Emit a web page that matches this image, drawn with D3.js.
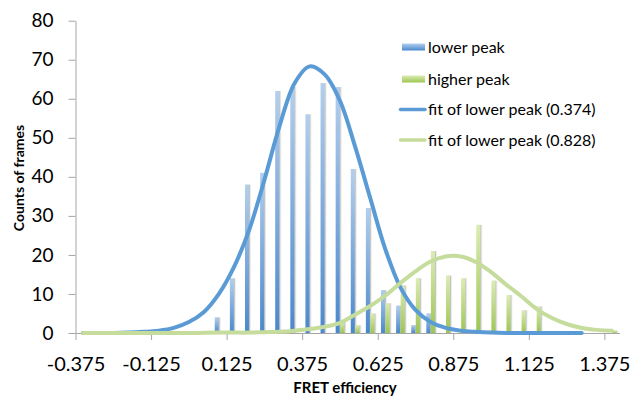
<!DOCTYPE html>
<html>
<head>
<meta charset="utf-8">
<script src="https://cdn.jsdelivr.net/npm/d3@7"></script>
<style>
  body { margin: 0; background: #fff; }
  text { font-family: Lato, "Open Sans", sans-serif; fill: #000; }
</style>
</head>
<body>
<div id="chart"></div>
<script>
// histogram bins (drawn at bin centres) and counts
var lowerX = [0.1, 0.15, 0.2, 0.25, 0.3, 0.35, 0.4, 0.45, 0.5, 0.55, 0.6, 0.65, 0.7, 0.75, 0.8, 1.0];
var lowerCounts = [4, 14, 38, 41, 62, 63, 56, 64, 63, 42, 32, 11, 7, 2, 5, 0.5];
var higherX = [0.3, 0.5, 0.55, 0.6, 0.65, 0.7, 0.75, 0.8, 0.85, 0.9, 0.95, 1.0, 1.05, 1.1, 1.15, 1.4];
var higherCounts = [0.8, 3, 2, 5, 7.6, 12.2, 14, 21, 14.7, 14, 27.7, 13.4, 9.7, 5.8, 6.8, 0.6];

// fit curves at each category
var fitX = [-0.35, -0.3, -0.25, -0.2, -0.15, -0.1, -0.05, 0, 0.05, 0.1, 0.15, 0.2, 0.25, 0.3,
            0.35, 0.4, 0.45, 0.5, 0.55, 0.6, 0.65, 0.7, 0.75, 0.8, 0.85, 0.9, 0.95, 1.0,
            1.05, 1.1, 1.15, 1.2, 1.25, 1.3, 1.35, 1.4];
var fitLower = [0, 0, 0, 0.1, 0.3, 0.6, 1.3, 2.8, 5.4, 10.1, 17, 26.5, 39.2, 53,
                64, 68.3, 66.2, 59.5, 47.8, 34.6, 21.5, 11.7, 5.9, 2.8, 1.3, 0.6, 0.3, 0.1,
                0, 0, 0, 0, 0, 0];
var fitHigher = [0, 0, 0, 0, 0, 0, 0, 0, 0.05, 0.1, 0.1, 0.1, 0.2, 0.3,
                 0.6, 1.0, 1.6, 2.6, 4.7, 6.9, 9.6, 12.8, 15.8, 18.3, 19.6, 19.6, 18.2, 15.6,
                 12.4, 9.4, 6.2, 3.9, 2.3, 1.3, 0.8, 0.6];

var xTicks = [-0.375, -0.125, 0.125, 0.375, 0.625, 0.875, 1.125, 1.375];
var xTickLabels = ["-0.375", "-0.125", "0.125", "0.375", "0.625", "0.875", "1.125", "1.375"];
var yTicks = [0, 10, 20, 30, 40, 50, 60, 70, 80];

var legendLabels = ["lower peak", "higher peak", "fit of lower peak (0.374)", "fit of lower peak (0.828)"];

var width = 640, height = 398;
var blue = "#5b9bd5", green = "#c5dc9c";

var svg = d3.select("#chart")
  .append("svg")
    .attr("width", width)
    .attr("height", height);

var defs = svg.append("defs");
function grad(id, top, bottom) {
  var g = defs.append("linearGradient").attr("id", id)
    .attr("x1", 0).attr("y1", 0).attr("x2", 0).attr("y2", 1);
  g.append("stop").attr("offset", "0%").attr("stop-color", top);
  g.append("stop").attr("offset", "100%").attr("stop-color", bottom);
}
grad("gBlue", "#b3cfee", "#4a88cc");
grad("gGreen", "#dcecb4", "#9cc650");
var f = defs.append("filter").attr("id", "shadow")
  .attr("x", "-50%").attr("y", "-10%").attr("width", "250%").attr("height", "120%");
f.append("feDropShadow").attr("dx", 1.3).attr("dy", 0).attr("stdDeviation", 0.7)
  .attr("flood-color", "#777").attr("flood-opacity", 0.45);

var x = d3.scaleLinear().domain([-0.375, 1.425]).range([75.5, 619.5]);
var y = d3.scaleLinear().domain([0, 80]).range([333, 20.7]);

// axes
var xAxis = svg.append("g")
  .attr("transform", "translate(0," + y(0) + ")")
  .call(d3.axisBottom(x).tickValues(xTicks).tickSize(7).tickSizeOuter(0).tickPadding(17)
    .tickFormat(function(d, i) { return xTickLabels[i]; }));
var yAxis = svg.append("g")
  .attr("transform", "translate(" + x(-0.375) + ",0)")
  .call(d3.axisLeft(y).tickValues(yTicks).tickSize(7).tickSizeOuter(0).tickPadding(15));
[xAxis, yAxis].forEach(function(a) {
  a.selectAll("path, line").attr("stroke", "#a6a6a6");
  a.selectAll("text").style("font-family", "Lato, sans-serif").attr("fill", "#000");
});
xAxis.selectAll("text").style("font-size", "20px");
yAxis.selectAll("text").style("font-size", "19px");

// bars
var barW = 4;
svg.append("g").selectAll("rect")
  .data(lowerX)
  .enter().append("rect")
    .attr("x", function(d) { return x(d) - 2.3 - barW / 2; })
    .attr("y", function(d, i) { return y(lowerCounts[i]); })
    .attr("width", barW)
    .attr("height", function(d, i) { return y(0) - y(lowerCounts[i]); })
    .attr("fill", "url(#gBlue)")
    .attr("filter", "url(#shadow)");
svg.append("g").selectAll("rect")
  .data(higherX)
  .enter().append("rect")
    .attr("x", function(d) { return x(d) + 2.3 - barW / 2; })
    .attr("y", function(d, i) { return y(higherCounts[i]); })
    .attr("width", barW)
    .attr("height", function(d, i) { return y(0) - y(higherCounts[i]); })
    .attr("fill", "url(#gGreen)")
    .attr("filter", "url(#shadow)");

// fit lines
var line = d3.line()
  .x(function(d) { return x(d[0]); })
  .y(function(d) { return y(Math.max(0, d[1])); })
  .curve(d3.curveCatmullRom);
svg.append("path")
  .datum(fitLower.map(function(v, i) { return [fitX[i], v]; }))
  .attr("d", line)
  .attr("fill", "none").attr("stroke", blue).attr("stroke-width", 4)
  .attr("stroke-linecap", "round");
svg.append("path")
  .datum(fitHigher.map(function(v, i) { return [fitX[i], v]; }))
  .attr("d", line)
  .attr("fill", "none").attr("stroke", green).attr("stroke-width", 4)
  .attr("stroke-linecap", "round");

// legend
var legendY = [47, 79, 109.5, 140];
var leg = svg.append("g");
legendLabels.forEach(function(t, i) {
  if (i < 2) {
    leg.append("rect").attr("x", 402).attr("y", legendY[i] - 3.5).attr("width", 23).attr("height", 7)
      .attr("fill", i == 0 ? "url(#gBlue)" : "url(#gGreen)");
  } else {
    leg.append("line").attr("x1", 400.5).attr("x2", 425).attr("y1", legendY[i]).attr("y2", legendY[i])
      .attr("stroke", i == 2 ? blue : green).attr("stroke-width", 3.5).attr("stroke-linecap", "round");
  }
  leg.append("text").attr("x", 428).attr("y", legendY[i]).attr("dy", "0.35em")
    .style("font-size", "16px").text(t);
});

// axis titles
svg.append("text")
  .attr("transform", "translate(24,178) rotate(-90)")
  .attr("text-anchor", "middle")
  .style("font-size", "14px").style("font-weight", "bold")
  .text("Counts of frames");
svg.append("text")
  .attr("x", 345).attr("y", 393)
  .attr("text-anchor", "middle")
  .style("font-size", "15px").style("font-weight", "bold")
  .text("FRET efficiency");
</script>
</body>
</html>
